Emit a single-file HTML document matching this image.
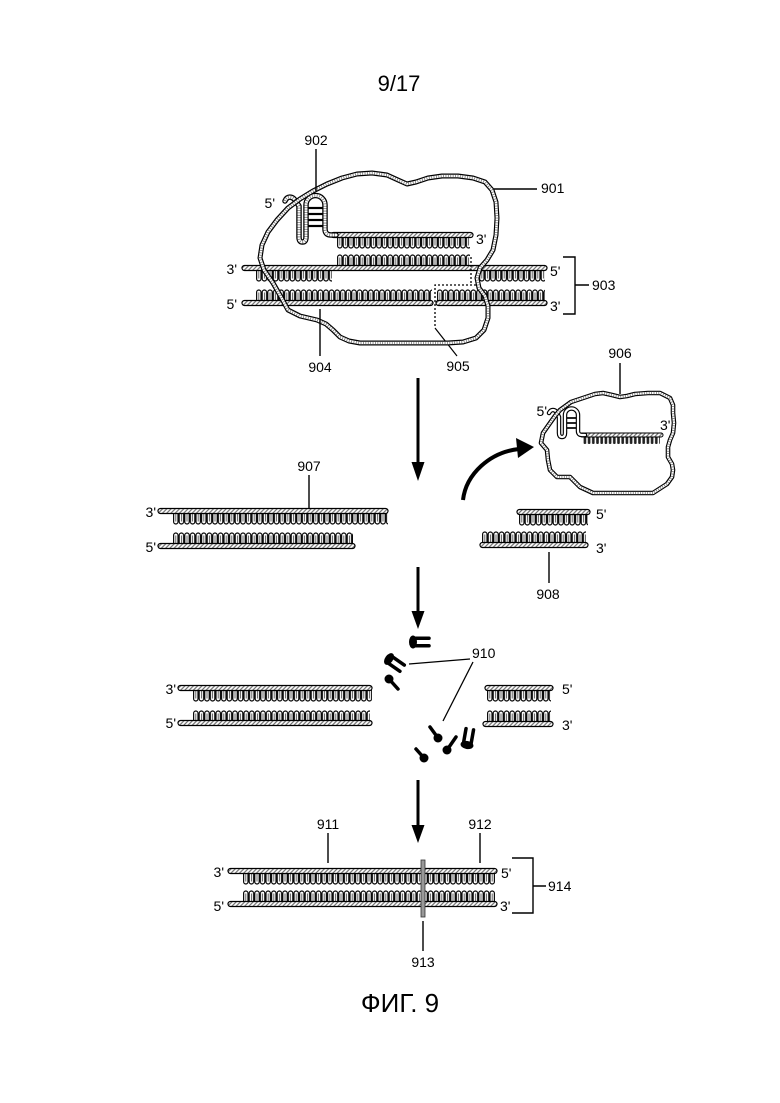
<!DOCTYPE html>
<html><head><meta charset="utf-8"><style>
html,body{margin:0;padding:0;background:#fff}
svg{display:block}
text{font-family:"Liberation Sans",Arial,sans-serif;fill:#000}
.l{font-size:14px}
</style></head><body>
<svg width="780" height="1103" viewBox="0 0 780 1103" xmlns="http://www.w3.org/2000/svg">
<defs>
<pattern id="h" width="3" height="3" patternUnits="userSpaceOnUse" patternTransform="rotate(45)"><rect width="3" height="3" fill="#fff"/><line x1="0.75" y1="0" x2="0.75" y2="3" stroke="#555" stroke-width="1"/></pattern>
<pattern id="td" width="5.6" height="20" patternUnits="userSpaceOnUse"><rect x="0.6" y="-6" width="4.4" height="19" rx="2.2" fill="#fff" stroke="#000" stroke-width="1.15"/><line x1="2.8" y1="0" x2="2.8" y2="10.5" stroke="#222" stroke-width="0.7"/></pattern>
<pattern id="tu" width="5.6" height="20" patternUnits="userSpaceOnUse"><rect x="0.6" y="7" width="4.4" height="19" rx="2.2" fill="#fff" stroke="#000" stroke-width="1.15"/><line x1="2.8" y1="9.5" x2="2.8" y2="20" stroke="#222" stroke-width="0.7"/></pattern>
<pattern id="tk" width="4.2" height="10" patternUnits="userSpaceOnUse"><rect x="0.6" y="-3" width="2.6" height="10" rx="1" fill="#222"/></pattern>
<path id="p901" d="M260,258 L262,245 L268,232 L277,220 L288,208 L300,199 L313,191 L327,184 L342,178 L357,174 L372,173 L387,175 L398,180 L407,184 L416,182 L428,178 L442,176 L458,176 L473,178 L485,182 L492,190 L496,202 L497,218 L496,235 L493,250 L487,260 L480,268 L477,278 L479,288 L485,296 L488,306 L488,318 L484,330 L476,338 L463,342 L448,343 L360,343 L349,341 L340,337 L333,330 L326,324 L317,320 L300,316 L288,310 L281,297 L273,283 L264,270 Z"/>
<path id="p906" d="M560,410 L571,402 L583,398 L595,394 L603,393 L612,395 L620,397 L627,396 L635,394 L648,393 L660,393 L670,398 L673,405 L673,413 L674,423 L673,433 L670,440 L668,447 L668,457 L672,464 L673,470 L672,477 L667,484 L653,493 L593,493 L580,487 L570,477 L557,477 L550,470 L548,460 L547,450 L541,443 L543,433 L550,423 L555,416 Z"/>
<path id="hp902" d="M285,201 C287,196 292,196 295,200 L299,206 L299,237 Q299,242 302.5,242 Q306,242 306,237 L306,205 A9.5,9.5 0 0 1 325,205 L325,229 Q325,235 331,235 L336,235"/>
<path id="hp906" d="M549,413 C551,409 555,409 557,413 L559,417 L559,433 Q559,437 562,437 Q565,437 565,433 L565,415 A6.5,6.5 0 0 1 578,415 L578,431 Q578,435 582,435 L585,435"/>
</defs>

<!-- header -->
<text x="399" y="91" font-size="22" text-anchor="middle">9/17</text>

<!-- ===== TOP DIAGRAM ===== -->
<rect transform="translate(256,268)" width="76" height="17" fill="url(#td)"/>
<rect transform="translate(479,268)" width="66" height="17" fill="url(#td)"/>
<rect transform="translate(337,248)" width="133" height="20" fill="url(#tu)"/>
<rect transform="translate(337,235)" width="133" height="15" fill="url(#td)"/>
<rect transform="translate(256,283)" width="176" height="20" fill="url(#tu)"/>
<rect transform="translate(437,283)" width="108" height="20" fill="url(#tu)"/>
<rect x="242" y="265.5" width="305" height="5" rx="2.5" fill="url(#h)" stroke="#000" stroke-width="1.2"/>
<rect x="242" y="300.5" width="191" height="5" rx="2.5" fill="url(#h)" stroke="#000" stroke-width="1.2"/>
<rect x="436" y="300.5" width="111" height="5" rx="2.5" fill="url(#h)" stroke="#000" stroke-width="1.2"/>
<rect x="331" y="232.5" width="142" height="5" rx="2.5" fill="url(#h)" stroke="#000" stroke-width="1.2"/>
<use href="#hp902" fill="none" stroke="#000" stroke-width="5.5" stroke-linejoin="round" stroke-linecap="round"/>
<use href="#hp902" fill="none" stroke="#fff" stroke-width="3" stroke-linejoin="round" stroke-linecap="round"/>
<use href="#hp902" fill="none" stroke="#777" stroke-width="3" stroke-dasharray="0.8 1.6"/>
<g stroke="#000" stroke-width="2.2">
<line x1="308" y1="208" x2="323" y2="208"/><line x1="308" y1="214" x2="323" y2="214"/>
<line x1="308" y1="220" x2="323" y2="220"/><line x1="308" y1="226" x2="323" y2="226"/>
</g>
<path d="M471,257 L471,285 M480,285 L435,285 L435,328" fill="none" stroke="#000" stroke-width="1.3" stroke-dasharray="2 2"/>
<line x1="435" y1="328" x2="457" y2="356" stroke="#000" stroke-width="1.2"/>
<use href="#p901" fill="none" stroke="#000" stroke-width="5" stroke-linejoin="round"/>
<use href="#p901" fill="none" stroke="#fff" stroke-width="2.6" stroke-linejoin="round"/>
<use href="#p901" fill="none" stroke="#777" stroke-width="2.6" stroke-dasharray="0.8 1.6"/>
<g stroke="#000" stroke-width="1.4" fill="none">
<line x1="316" y1="149" x2="316" y2="191"/>
<line x1="494" y1="189" x2="537" y2="189"/>
<line x1="320" y1="309" x2="320" y2="356"/>
<path d="M563,257 L575,257 L575,314 L563,314 M575,285 L589,285"/>
</g>
<text class="l" x="316" y="145" text-anchor="middle">902</text>
<text class="l" x="541" y="193">901</text>
<text class="l" x="592" y="290">903</text>
<text class="l" x="320" y="372" text-anchor="middle">904</text>
<text class="l" x="458" y="371" text-anchor="middle">905</text>
<text class="l" x="275" y="208" text-anchor="end">5'</text>
<text class="l" x="476" y="244">3'</text>
<text class="l" x="237" y="274" text-anchor="end">3'</text>
<text class="l" x="237" y="309" text-anchor="end">5'</text>
<text class="l" x="550" y="276">5'</text>
<text class="l" x="550" y="311">3'</text>

<!-- arrow 1 -->
<line x1="418" y1="378" x2="418" y2="465" stroke="#000" stroke-width="3"/>
<polygon points="411.5,462 424.5,462 418,481" fill="#000"/>

<!-- ===== 906 ===== -->
<rect transform="translate(583,437)" width="77" height="7" fill="url(#tk)"/>
<rect x="580" y="433" width="83" height="4" rx="2" fill="url(#h)" stroke="#000" stroke-width="1"/>
<use href="#hp906" fill="none" stroke="#000" stroke-width="4.5" stroke-linejoin="round" stroke-linecap="round"/>
<use href="#hp906" fill="none" stroke="#fff" stroke-width="2.2" stroke-linejoin="round" stroke-linecap="round"/>
<g stroke="#000" stroke-width="1.7">
<line x1="566.5" y1="418" x2="576.5" y2="418"/><line x1="566.5" y1="423" x2="576.5" y2="423"/><line x1="566.5" y1="428" x2="576.5" y2="428"/>
</g>
<use href="#p906" fill="none" stroke="#000" stroke-width="4.6" stroke-linejoin="round"/>
<use href="#p906" fill="none" stroke="#fff" stroke-width="2.3" stroke-linejoin="round"/>
<use href="#p906" fill="none" stroke="#777" stroke-width="2.3" stroke-dasharray="0.8 1.6"/>
<line x1="620" y1="363" x2="620" y2="394" stroke="#000" stroke-width="1.4"/>
<text class="l" x="620" y="358" text-anchor="middle">906</text>
<text class="l" x="547" y="416" text-anchor="end">5'</text>
<text class="l" x="660" y="430">3'</text>

<!-- curved arrow -->
<path d="M463,500 C466,474 490,452 519,449" fill="none" stroke="#000" stroke-width="4"/>
<polygon points="534,447 516,438 518,458" fill="#000"/>

<!-- ===== 907 ===== -->
<rect transform="translate(173,511)" width="215" height="17" fill="url(#td)"/>
<rect transform="translate(173,526)" width="180" height="20" fill="url(#tu)"/>
<rect x="158" y="508.5" width="230" height="5" rx="2.5" fill="url(#h)" stroke="#000" stroke-width="1.2"/>
<rect x="158" y="543.5" width="197" height="5" rx="2.5" fill="url(#h)" stroke="#000" stroke-width="1.2"/>
<line x1="309" y1="475" x2="309" y2="508" stroke="#000" stroke-width="1.4"/>
<text class="l" x="309" y="471" text-anchor="middle">907</text>
<text class="l" x="156" y="517" text-anchor="end">3'</text>
<text class="l" x="156" y="552" text-anchor="end">5'</text>

<!-- ===== 908 ===== -->
<rect transform="translate(519,512)" width="69" height="17" fill="url(#td)"/>
<rect transform="translate(482,525)" width="104" height="20" fill="url(#tu)"/>
<rect x="517" y="509.5" width="73" height="5" rx="2.5" fill="url(#h)" stroke="#000" stroke-width="1.2"/>
<rect x="480" y="542.5" width="108" height="5" rx="2.5" fill="url(#h)" stroke="#000" stroke-width="1.2"/>
<line x1="549" y1="552" x2="549" y2="583" stroke="#000" stroke-width="1.4"/>
<text class="l" x="548" y="599" text-anchor="middle">908</text>
<text class="l" x="596" y="519">5'</text>
<text class="l" x="596" y="553">3'</text>

<!-- arrow 2 -->
<line x1="418" y1="567" x2="418" y2="614" stroke="#000" stroke-width="3"/>
<polygon points="411.5,611 424.5,611 418,629" fill="#000"/>

<!-- ===== 910 section ===== -->
<rect transform="translate(193,688)" width="179" height="17" fill="url(#td)"/>
<rect transform="translate(193,704)" width="177" height="20" fill="url(#tu)"/>
<rect x="178" y="685.5" width="194" height="5" rx="2.5" fill="url(#h)" stroke="#000" stroke-width="1.2"/>
<rect x="178" y="720.5" width="194" height="5" rx="2.5" fill="url(#h)" stroke="#000" stroke-width="1.2"/>
<text class="l" x="176" y="694" text-anchor="end">3'</text>
<text class="l" x="176" y="728" text-anchor="end">5'</text>

<rect transform="translate(487,688)" width="64" height="17" fill="url(#td)"/>
<rect transform="translate(487,704)" width="64" height="20" fill="url(#tu)"/>
<rect x="485" y="685.5" width="68" height="5" rx="2.5" fill="url(#h)" stroke="#000" stroke-width="1.2"/>
<rect x="483" y="721.5" width="70" height="5" rx="2.5" fill="url(#h)" stroke="#000" stroke-width="1.2"/>
<text class="l" x="562" y="694">5'</text>
<text class="l" x="562" y="730">3'</text>

<g fill="#000" stroke="#000" stroke-linecap="round">
<g transform="translate(413,642)"><ellipse cx="0" cy="0" rx="4" ry="6.5" stroke="none"/><line x1="2" y1="-3.8" x2="16" y2="-3.8" stroke-width="3.5"/><line x1="2" y1="3.8" x2="16" y2="3.8" stroke-width="3.5"/></g>
<g transform="translate(389,659) rotate(35)"><ellipse cx="0" cy="0" rx="4" ry="6.5" stroke="none"/><line x1="2" y1="-3.8" x2="16" y2="-3.8" stroke-width="3.5"/><line x1="2" y1="3.8" x2="16" y2="3.8" stroke-width="3.5"/></g>
<circle cx="389" cy="679" r="4.5" stroke="none"/><line x1="389" y1="679" x2="398" y2="689" stroke-width="3.5"/>
<circle cx="438" cy="738" r="4.5" stroke="none"/><line x1="438" y1="738" x2="430" y2="727" stroke-width="3.5"/>
<circle cx="424" cy="758" r="4.5" stroke="none"/><line x1="424" y1="758" x2="416" y2="749" stroke-width="3.5"/>
<circle cx="447" cy="750" r="4.5" stroke="none"/><line x1="447" y1="750" x2="456" y2="737" stroke-width="3.5"/>
<g transform="translate(467,745) rotate(-80)"><ellipse cx="0" cy="0" rx="4" ry="6.5" stroke="none"/><line x1="2" y1="-3.8" x2="16" y2="-3.8" stroke-width="3.5"/><line x1="2" y1="3.8" x2="16" y2="3.8" stroke-width="3.5"/></g>
</g>
<g stroke="#000" stroke-width="1.3">
<line x1="409" y1="664" x2="470" y2="659"/>
<line x1="443" y1="721" x2="473" y2="662"/>
</g>
<text class="l" x="472" y="658">910</text>

<!-- arrow 3 -->
<line x1="418" y1="780" x2="418" y2="828" stroke="#000" stroke-width="3"/>
<polygon points="411.5,825 424.5,825 418,843" fill="#000"/>

<!-- ===== 914 ===== -->
<rect transform="translate(243,871)" width="252" height="17" fill="url(#td)"/>
<rect transform="translate(243,884)" width="252" height="20" fill="url(#tu)"/>
<rect x="228" y="868.5" width="269" height="5" rx="2.5" fill="url(#h)" stroke="#000" stroke-width="1.2"/>
<rect x="228" y="901.5" width="269" height="5" rx="2.5" fill="url(#h)" stroke="#000" stroke-width="1.2"/>
<rect x="421" y="860" width="4" height="57" fill="#999" stroke="#333" stroke-width="0.8"/>
<g stroke="#000" stroke-width="1.4" fill="none">
<line x1="328" y1="833" x2="328" y2="863"/>
<line x1="480" y1="833" x2="480" y2="863"/>
<line x1="423" y1="921" x2="423" y2="951"/>
<path d="M512,858 L533,858 L533,913 L512,913 M533,886 L546,886"/>
</g>
<text class="l" x="328" y="829" text-anchor="middle">911</text>
<text class="l" x="480" y="829" text-anchor="middle">912</text>
<text class="l" x="423" y="967" text-anchor="middle">913</text>
<text class="l" x="548" y="891">914</text>
<text class="l" x="224" y="877" text-anchor="end">3'</text>
<text class="l" x="224" y="911" text-anchor="end">5'</text>
<text class="l" x="501" y="878">5'</text>
<text class="l" x="500" y="911">3'</text>

<text x="400" y="1012" font-size="26" text-anchor="middle">ФИГ. 9</text>
</svg>
</body></html>
